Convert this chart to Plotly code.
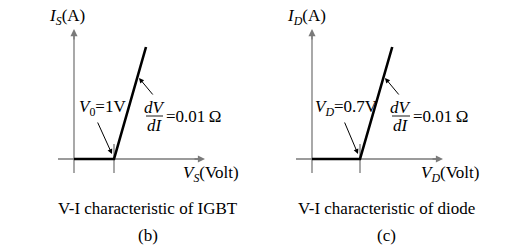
import plotly.graph_objects as go

# ---- data (schematic V-I characteristics) ----
igbt_v = [0.0, 1.0, 1.8]      # V_S (Volt)
igbt_i = [0.0, 0.0, 80.0]     # I_S (A)
diode_v = [0.0, 0.7, 1.17]    # V_D (Volt)
diode_i = [0.0, 0.0, 47.0]    # I_D (A)

W, H = 506, 249
FONT = "Liberation Serif"
GRAY = "#7a7a7a"
FS = 17

def px(x):
    return x / W

def py(y):
    return 1 - y / H

# panel geometry (pixels)
b_org = (74, 159); b_vs = 40.0; b_is = 112 / 80.0
c_org = (312, 159); c_vs = 48 / 0.7; c_is = 112 / 47.0

fig = go.Figure()
fig.add_trace(go.Scatter(x=igbt_v, y=igbt_i, mode="lines",
                         line=dict(color="black", width=2.6), xaxis="x", yaxis="y",
                         hoverinfo="skip"))
fig.add_trace(go.Scatter(x=diode_v, y=diode_i, mode="lines",
                         line=dict(color="black", width=2.6), xaxis="x2", yaxis="y2",
                         hoverinfo="skip"))

ax_common = dict(visible=False, showgrid=False, zeroline=False, fixedrange=True)
fig.update_layout(
    width=W, height=H, margin=dict(l=0, r=0, t=0, b=0),
    paper_bgcolor="white", plot_bgcolor="rgba(0,0,0,0)", showlegend=False,
    xaxis=dict(domain=[0, 253 / W], range=[(0 - b_org[0]) / b_vs, (253 - b_org[0]) / b_vs], **ax_common),
    yaxis=dict(domain=[0, 1], range=[(b_org[1] - H) / b_is, b_org[1] / b_is], **ax_common),
    xaxis2=dict(domain=[253 / W, 1], range=[(253 - c_org[0]) / c_vs, (W - c_org[0]) / c_vs], **ax_common),
    yaxis2=dict(domain=[0, 1], range=[(c_org[1] - H) / c_is, c_org[1] / c_is], anchor="x2", **ax_common),
)

shapes = []
annos = []

def line(x0, y0, x1, y1, color=GRAY, width=1.3):
    shapes.append(dict(type="line", xref="paper", yref="paper",
                       x0=px(x0), y0=py(y0), x1=px(x1), y1=py(y1),
                       line=dict(color=color, width=width), layer="below"))

def arrow(xt, yt, xh, yh, color="black", width=1.0, size=1.0, head=2):
    annos.append(dict(xref="paper", yref="paper", x=px(xh), y=py(yh),
                      ax=xt - xh, ay=yt - yh, axref="pixel", ayref="pixel",
                      text="", showarrow=True, arrowhead=head, arrowsize=size,
                      arrowwidth=width, arrowcolor=color, standoff=0))

def text(x, y, t, size=FS, xanchor="center"):
    annos.append(dict(xref="paper", yref="paper", x=px(x), y=py(y), text=t,
                      showarrow=False, xanchor=xanchor, yanchor="middle",
                      font=dict(family=FONT, size=size, color="black")))

def panel(org, knee_x, xend, ylab_x, lab_sub, ann_text, ann_x0, frac_x0, frac_x1,
          vt_tail, vt_head, dv_tail, dv_head, xlab_cx, cap, cap_cx, letter):
    ox, oy = org
    # axis lines (below the curves) plus short arrows for the heads
    line(ox - 16, oy, xend - 4, oy)
    line(ox, oy + 14, ox, 33)
    arrow(xend - 12, oy, xend, oy, color=GRAY, width=1.3, size=1.1)
    arrow(ox, 41, ox, 29, color=GRAY, width=1.3, size=1.1)
    # tick at knee
    line(knee_x, oy - 15, knee_x, oy + 14)
    # labels
    text(ylab_x, 17, "<i>I</i><sub><i>%s</i></sub>(A)" % lab_sub)
    text(xlab_cx, 174, "<i>V</i><sub><i>%s</i></sub>(Volt)" % lab_sub)
    text(ann_x0, 108, ann_text, xanchor="left")
    arrow(vt_tail[0], vt_tail[1], vt_head[0], vt_head[1])
    # dV/dI fraction
    fc = (frac_x0 + frac_x1) / 2
    text(fc, 107, "<i>dV</i>")
    text(fc, 126, "<i>dI</i>")
    line(frac_x0, 116, frac_x1, 116, color="black", width=0.9)
    text(frac_x1 + 1, 116, "=0.01\u2009\u03a9", xanchor="left")
    arrow(dv_tail[0], dv_tail[1], dv_head[0], dv_head[1])
    # caption
    text(cap_cx, 208, cap)
    text(cap_cx, 235, letter)

panel(b_org, b_org[0] + igbt_v[1] * b_vs, 205, 67, "S",
      "<i>V</i><sub>0</sub>=1V", 77, 146, 163,
      (97, 121), (112, 154), (154, 96), (139, 78), 211,
      "V-I characteristic of IGBT", 148, "(b)")
panel(c_org, c_org[0] + diode_v[1] * c_vs, 443, 306, "D",
      "<i>V</i><sub><i>D</i></sub>=0.7V", 313, 392, 410,
      (344, 121), (358, 154), (400, 96), (385, 78), 450,
      "V-I characteristic of diode", 386, "(c)")

fig.update_layout(shapes=shapes, annotations=annos)
fig.write_html("out.html")
